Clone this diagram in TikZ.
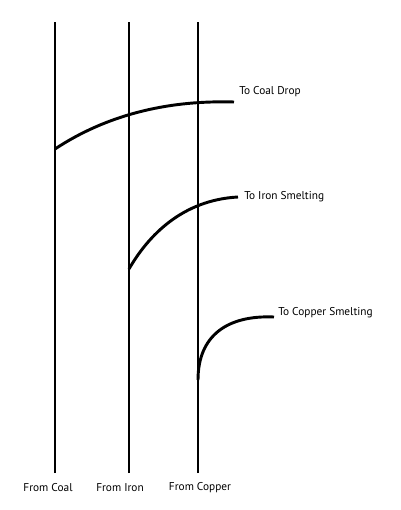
\documentclass[tikz,border=0pt]{standalone}
\usepackage{fontspec}
\setmainfont{PT Sans}
\usepackage{tikz}

\begin{document}
\begin{tikzpicture}[x=0.75pt, y=-0.75pt,
        pipe/.style={line width = 2.2pt, black},
        lbl/.style={black, inner sep=0pt, font=\fontsize{8.5}{10}\selectfont}]
        \useasboundingbox (0, 0) rectangle (400, 510);
        % feed lines
        \coordinate (coaltop) at (55, 22);
        \coordinate (coalbot) at (55, 473);
        \coordinate (irontop) at (129, 22);
        \coordinate (ironbot) at (129, 473);
        \coordinate (coppertop) at (198, 22);
        \coordinate (copperbot) at (198, 473);
        \draw[pipe] (coalbot) -- (coaltop);
        \draw[pipe] (ironbot) -- (irontop);
        \draw[pipe] (copperbot) -- (coppertop);
        \node[lbl] (fromcoal) at (48, 488) {From Coal};
        \node[lbl] (fromiron) at (120, 488) {From Iron};
        \node[lbl] (fromcopper) at (200, 488) {From Copper};
        % branches
        \coordinate (coalsplit) at (55, 149);
        \coordinate (coalend) at (234, 102);
        \coordinate (ironsplit) at (129, 269);
        \coordinate (ironend) at (238, 197);
        \coordinate (coppersplit) at (198, 380);
        \coordinate (copperend) at (274, 317);
        \draw[pipe] (coalsplit) .. controls (105, 116) and (165, 100) .. (coalend);
        \draw[pipe] (ironsplit) .. controls (148, 236) and (182, 200) .. (ironend);
        \draw[pipe] (coppersplit) .. controls (198, 335) and (228, 315) .. (copperend);
        \node[lbl, anchor=west] (todrop) at (239, 92) {To Coal Drop};
        \node[lbl, anchor=west] (toiron) at (244, 197) {To Iron Smelting};
        \node[lbl, anchor=west] (tocopper) at (278, 313) {To Copper Smelting};
\end{tikzpicture}
\end{document}
